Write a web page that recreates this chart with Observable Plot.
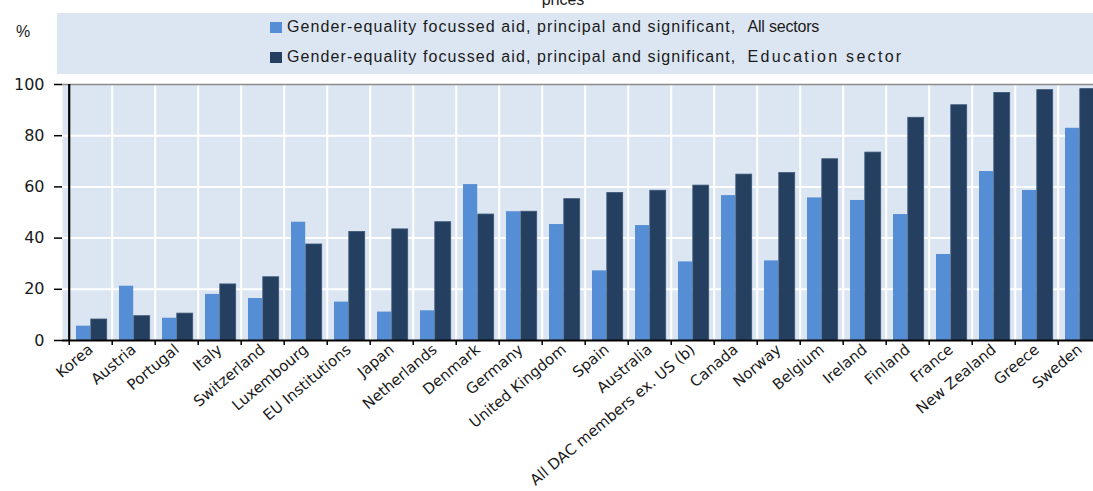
<!DOCTYPE html>
<html>
<head>
<meta charset="utf-8">
<script src="https://cdn.jsdelivr.net/npm/d3@7"></script>
<script src="https://cdn.jsdelivr.net/npm/@observablehq/plot@0.6"></script>
<style>
  html, body { margin: 0; padding: 0; background: #ffffff; overflow: hidden; }
  #wrap { position: relative; width: 1093px; height: 491px; overflow: hidden; font-family: "Liberation Sans", Arial, sans-serif; color: #1a1a1a; }
  #header { position: relative; height: 74px; }
  #title { position: absolute; left: 0; width: 1126px; top: -8.5px; text-align: center; font-size: 16px; line-height: 16px; }
  #pct { position: absolute; left: 16px; top: 23px; font-size: 16px; line-height: 18px; }
  #legend { position: absolute; left: 57px; top: 13px; width: 1040px; height: 61px; background: #dce6f2; }
  .item { position: absolute; left: 213px; display: flex; align-items: center; font-size: 16px; letter-spacing: 1.1px; white-space: pre; }
  .sw { width: 12px; height: 11px; margin-right: 5px; }
  #chart svg { display: block; max-width: none !important; }
</style>
</head>
<body>
<div id="wrap">
  <div id="header">
    <div id="title">prices</div>
    <div id="pct">%</div>
    <div id="legend"></div>
  </div>
  <div id="chart"></div>
</div>
<script>
const countries = ["Korea", "Austria", "Portugal", "Italy", "Switzerland", "Luxembourg", "EU Institutions", "Japan", "Netherlands", "Denmark", "Germany", "United Kingdom", "Spain", "Australia", "All DAC members ex. US (b)", "Canada", "Norway", "Belgium", "Ireland", "Finland", "France", "New Zealand", "Greece", "Sweden"];
const allSectors = [5.6, 21.2, 8.7, 18.0, 16.4, 46.2, 15.0, 11.1, 11.6, 60.9, 50.3, 45.3, 27.2, 44.9, 30.7, 56.6, 31.1, 55.7, 54.7, 49.2, 33.6, 66.0, 58.6, 82.9];
const educationSector = [8.2, 9.5, 10.5, 21.9, 24.7, 37.5, 42.4, 43.4, 46.2, 49.2, 50.3, 55.2, 57.6, 58.5, 60.5, 64.8, 65.4, 70.8, 73.4, 87.0, 91.9, 96.7, 97.8, 98.2];
const seriesPrefix = "Gender-equality focussed aid, principal and significant,  ";
const seriesSuffixes = ["All sectors", "Education sector"];
const suffixSpacing = ["-0.2px", "2.3px"];
const seriesColors = ["#558ed5", "#253f60"];
const yTicks = [0, 20, 40, 60, 80, 100];

// legend
const legend = document.getElementById("legend");
seriesSuffixes.forEach((suffix, i) => {
  const it = document.createElement("div");
  it.className = "item";
  it.style.top = (i === 0 ? 4 : 34) + "px";
  it.style.height = "20px";
  const sw = document.createElement("span");
  sw.className = "sw";
  sw.style.background = seriesColors[i];
  const tx = document.createElement("span");
  tx.textContent = seriesPrefix;
  const tx2 = document.createElement("span");
  tx2.textContent = suffix;
  tx2.style.letterSpacing = suffixSpacing[i];
  it.appendChild(sw);
  it.appendChild(tx);
  it.appendChild(tx2);
  legend.appendChild(it);
});

const rowsAll = countries.map((c, i) => ({country: c, value: allSectors[i]}));
const rowsEdu = countries.map((c, i) => ({country: c, value: educationSector[i]}));

const width = 1109, marginLeft = 62, marginRight = 1;
const step = (width - marginLeft - marginRight) / countries.length;
const font = "DejaVu Sans, Verdana, sans-serif";

const chart = Plot.plot({
  width,
  height: 417,
  marginTop: 10,
  marginBottom: 151,
  marginLeft,
  marginRight,
  style: {fontFamily: font, fontSize: "15px", color: "#1a1a1a", background: "transparent", overflow: "visible", maxWidth: "none"},
  x: {type: "band", domain: countries, padding: 0, axis: null},
  y: {domain: [0, 100], axis: null},
  marks: [
    Plot.frame({fill: "#dce6f2", stroke: "none"}),
    Plot.ruleY(yTicks.slice(1, -1), {stroke: "#ffffff", strokeWidth: 2}),
    Plot.ruleX(countries.slice(1), {stroke: "#ffffff", strokeWidth: 2, dx: -step / 2}),
    Plot.barY(rowsAll, {x: "country", y: "value", fill: seriesColors[0], insetLeft: 7, insetRight: step - 21.8}),
    Plot.barY(rowsEdu, {x: "country", y: "value", fill: seriesColors[1], stroke: "#3b5675", strokeWidth: 0.8, insetLeft: 21.8, insetRight: 5.3}),
    Plot.ruleY([100], {stroke: "#8c8c8c", strokeWidth: 1.5}),
    Plot.ruleY([0], {stroke: "#000000", strokeWidth: 2.2}),
    Plot.ruleX([countries[0]], {stroke: "#000000", strokeWidth: 2.2, dx: -step / 2}),
    Plot.axisY({ticks: yTicks, tickSize: 8, tickPadding: 10, label: null, fontSize: 16, stroke: "#000000", strokeWidth: 1.5}),
    Plot.axisX({tickSize: 5, fill: "none", stroke: "#000000", strokeWidth: 1.5, dx: -step / 2, label: null}),
    Plot.axisX({tickSize: 0, tickPadding: 7, tickRotate: -40, label: null, fontSize: 15})
  ]
});
document.getElementById("chart").appendChild(chart);
</script>
</body>
</html>
